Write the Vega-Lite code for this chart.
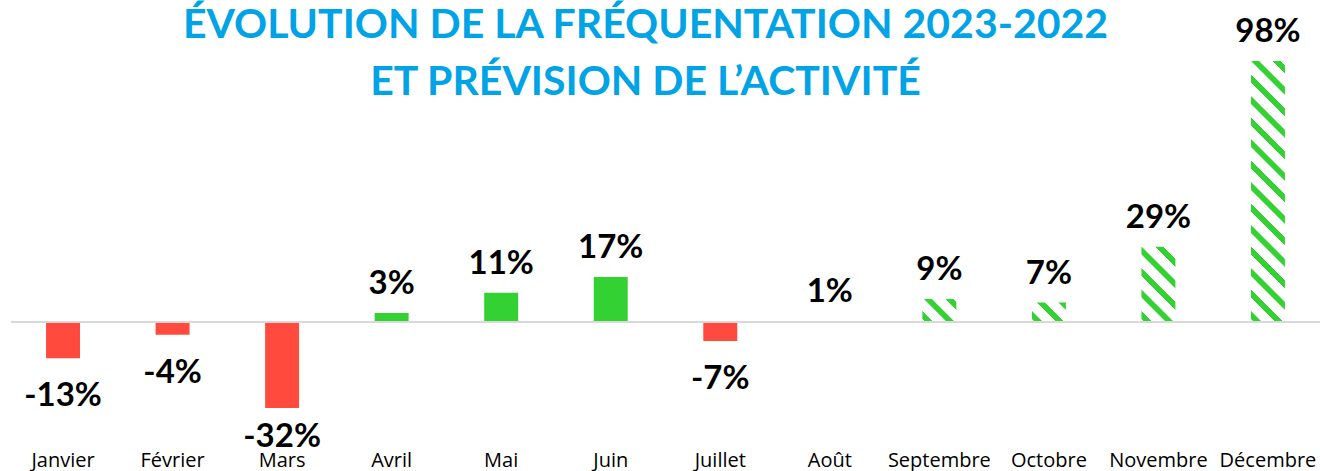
{
  "$schema": "https://vega.github.io/schema/vega-lite/v6.json",
  "width": 1309,
  "height": 446,
  "autosize": {"type": "none"},
  "padding": {"left": 11, "top": 0, "right": 0, "bottom": 25},
  "background": "#ffffff",
  "config": {"view": {"stroke": null}},
  "title": {
    "text": ["ÉVOLUTION DE LA FRÉQUENTATION 2023-2022", "ET PRÉVISION DE L’ACTIVITÉ"],
    "font": "Lato",
    "fontWeight": "bold",
    "fontSize": 41,
    "color": "#00A3E6",
    "lineHeight": 57,
    "anchor": "middle",
    "frame": "group",
    "baseline": "top",
    "offset": -104,
    "dx": -20
  },
  "data": {
    "values": [
      {"month": "Janvier", "value": -13.5, "label": "-13%", "type": "réel"},
      {"month": "Février", "value": -4.7, "label": "-4%", "type": "réel"},
      {"month": "Mars", "value": -32, "label": "-32%", "type": "réel"},
      {"month": "Avril", "value": 3.3, "label": "3%", "type": "réel"},
      {"month": "Mai", "value": 10.9, "label": "11%", "type": "réel"},
      {"month": "Juin", "value": 16.7, "label": "17%", "type": "réel"},
      {"month": "Juillet", "value": -7.1, "label": "-7%", "type": "réel"},
      {"month": "Août", "value": 0.4, "label": "1%", "type": "réel"},
      {"month": "Septembre", "value": 8.55, "label": "9%", "type": "prévision"},
      {"month": "Octobre", "value": 7.2, "label": "7%", "type": "prévision"},
      {"month": "Novembre", "value": 28, "label": "29%", "type": "prévision"},
      {"month": "Décembre", "value": 97, "label": "98%", "type": "prévision"}
    ]
  },
  "layer": [
    {
      "transform": [{"filter": "datum.type === 'réel'"}],
      "mark": {"type": "bar"},
      "encoding": {
        "x": {"field": "month", "type": "nominal", "sort": ["Janvier","Février","Mars","Avril","Mai","Juin","Juillet","Août","Septembre","Octobre","Novembre","Décembre"], "scale": {"paddingInner": 0.69, "paddingOuter": 0.32},
          "axis": {"title": null, "domain": false, "ticks": false, "tickSize": 0, "labelAngle": 0, "labelFont": "Open Sans", "labelFontSize": 20, "labelColor": "#000000", "labelBaseline": "alphabetic", "labelPadding": 20, "labelOverlap": false, "labelFlush": false}},
        "y": {"field": "value", "type": "quantitative", "scale": {"domain": [-46.1, 119.7], "nice": false, "zero": false}, "axis": null},
        "color": {"condition": {"test": "datum.value < 0", "value": "#FF4A3D"}, "value": "#34D133"}
      }
    },
    {
      "transform": [{"filter": "datum.month === 'Septembre'"}],
      "mark": {"type": "bar", "fill": {"gradient": "linear", "x1": 0, "y1": 1, "x2": 1.1498, "y2": 0.2213, "stops": [
        {"offset": 0, "color": "#ffffff"}, {"offset": 0.0439, "color": "#ffffff"}, {"offset": 0.0614, "color": "#34D133"}, {"offset": 0.1843, "color": "#34D133"}, {"offset": 0.2019, "color": "#ffffff"},
        {"offset": 0.4213, "color": "#ffffff"}, {"offset": 0.4389, "color": "#34D133"}, {"offset": 0.5618, "color": "#34D133"}, {"offset": 0.5794, "color": "#ffffff"},
        {"offset": 0.7988, "color": "#ffffff"}, {"offset": 0.8164, "color": "#34D133"}, {"offset": 0.9393, "color": "#34D133"}, {"offset": 0.9568, "color": "#ffffff"}, {"offset": 1, "color": "#ffffff"}]}},
      "encoding": {
        "x": {"field": "month", "type": "nominal", "sort": ["Janvier","Février","Mars","Avril","Mai","Juin","Juillet","Août","Septembre","Octobre","Novembre","Décembre"]},
        "y": {"field": "value", "type": "quantitative"}
      }
    },
    {
      "transform": [{"filter": "datum.month === 'Octobre'"}],
      "mark": {"type": "bar", "fill": {"gradient": "linear", "x1": 0, "y1": 1, "x2": 1.1849, "y2": 0.3242, "stops": [
        {"offset": 0, "color": "#ffffff"}, {"offset": 0.0469, "color": "#ffffff"}, {"offset": 0.0656, "color": "#34D133"}, {"offset": 0.1969, "color": "#34D133"}, {"offset": 0.2156, "color": "#ffffff"},
        {"offset": 0.45, "color": "#ffffff"}, {"offset": 0.4688, "color": "#34D133"}, {"offset": 0.6, "color": "#34D133"}, {"offset": 0.6188, "color": "#ffffff"},
        {"offset": 0.8532, "color": "#ffffff"}, {"offset": 0.8719, "color": "#34D133"}, {"offset": 1, "color": "#34D133"}]}},
      "encoding": {
        "x": {"field": "month", "type": "nominal", "sort": ["Janvier","Février","Mars","Avril","Mai","Juin","Juillet","Août","Septembre","Octobre","Novembre","Décembre"]},
        "y": {"field": "value", "type": "quantitative"}
      }
    },
    {
      "transform": [{"filter": "datum.month === 'Novembre'"}],
      "mark": {"type": "bar", "fill": {"gradient": "linear", "x1": 0, "y1": 1, "x2": 0.54379, "y2": -0.2058, "stops": [
        {"offset": 0, "color": "#ffffff"}, {"offset": 0.0229, "color": "#ffffff"}, {"offset": 0.032, "color": "#34D133"}, {"offset": 0.0961, "color": "#34D133"}, {"offset": 0.1053, "color": "#ffffff"},
        {"offset": 0.2197, "color": "#ffffff"}, {"offset": 0.2288, "color": "#34D133"}, {"offset": 0.2929, "color": "#34D133"}, {"offset": 0.302, "color": "#ffffff"},
        {"offset": 0.4164, "color": "#ffffff"}, {"offset": 0.4256, "color": "#34D133"}, {"offset": 0.4897, "color": "#34D133"}, {"offset": 0.4988, "color": "#ffffff"},
        {"offset": 0.6132, "color": "#ffffff"}, {"offset": 0.6224, "color": "#34D133"}, {"offset": 0.6864, "color": "#34D133"}, {"offset": 0.6956, "color": "#ffffff"},
        {"offset": 0.81, "color": "#ffffff"}, {"offset": 0.8191, "color": "#34D133"}, {"offset": 0.8832, "color": "#34D133"}, {"offset": 0.8924, "color": "#ffffff"}, {"offset": 1, "color": "#ffffff"}]}},
      "encoding": {
        "x": {"field": "month", "type": "nominal", "sort": ["Janvier","Février","Mars","Avril","Mai","Juin","Juillet","Août","Septembre","Octobre","Novembre","Décembre"]},
        "y": {"field": "value", "type": "quantitative"}
      }
    },
    {
      "transform": [{"filter": "datum.month === 'Décembre'"}],
      "mark": {"type": "bar", "fill": {"gradient": "linear", "x1": 0, "y1": 1, "x2": 0.14466, "y2": -0.1113, "stops": [
        {"offset": 0, "color": "#ffffff"},
        {"offset": 0.00848, "color": "#ffffff"}, {"offset": 0.01187, "color": "#34D133"}, {"offset": 0.03561, "color": "#34D133"}, {"offset": 0.039, "color": "#ffffff"},
        {"offset": 0.0814, "color": "#ffffff"}, {"offset": 0.08479, "color": "#34D133"}, {"offset": 0.10853, "color": "#34D133"}, {"offset": 0.11192, "color": "#ffffff"},
        {"offset": 0.15431, "color": "#ffffff"}, {"offset": 0.1577, "color": "#34D133"}, {"offset": 0.18144, "color": "#34D133"}, {"offset": 0.18483, "color": "#ffffff"},
        {"offset": 0.22723, "color": "#ffffff"}, {"offset": 0.23062, "color": "#34D133"}, {"offset": 0.25436, "color": "#34D133"}, {"offset": 0.25775, "color": "#ffffff"},
        {"offset": 0.30014, "color": "#ffffff"}, {"offset": 0.30353, "color": "#34D133"}, {"offset": 0.32727, "color": "#34D133"}, {"offset": 0.33067, "color": "#ffffff"},
        {"offset": 0.37306, "color": "#ffffff"}, {"offset": 0.37645, "color": "#34D133"}, {"offset": 0.40019, "color": "#34D133"}, {"offset": 0.40358, "color": "#ffffff"},
        {"offset": 0.44598, "color": "#ffffff"}, {"offset": 0.44937, "color": "#34D133"}, {"offset": 0.47311, "color": "#34D133"}, {"offset": 0.4765, "color": "#ffffff"},
        {"offset": 0.51889, "color": "#ffffff"}, {"offset": 0.52228, "color": "#34D133"}, {"offset": 0.54602, "color": "#34D133"}, {"offset": 0.54942, "color": "#ffffff"},
        {"offset": 0.59181, "color": "#ffffff"}, {"offset": 0.5952, "color": "#34D133"}, {"offset": 0.61894, "color": "#34D133"}, {"offset": 0.62233, "color": "#ffffff"},
        {"offset": 0.66472, "color": "#ffffff"}, {"offset": 0.66811, "color": "#34D133"}, {"offset": 0.69185, "color": "#34D133"}, {"offset": 0.69525, "color": "#ffffff"},
        {"offset": 0.73764, "color": "#ffffff"}, {"offset": 0.74103, "color": "#34D133"}, {"offset": 0.76477, "color": "#34D133"}, {"offset": 0.76816, "color": "#ffffff"},
        {"offset": 0.81055, "color": "#ffffff"}, {"offset": 0.81394, "color": "#34D133"}, {"offset": 0.83768, "color": "#34D133"}, {"offset": 0.84108, "color": "#ffffff"},
        {"offset": 0.88347, "color": "#ffffff"}, {"offset": 0.88686, "color": "#34D133"}, {"offset": 0.9106, "color": "#34D133"}, {"offset": 0.91399, "color": "#ffffff"},
        {"offset": 0.95638, "color": "#ffffff"}, {"offset": 0.95977, "color": "#34D133"}, {"offset": 0.98351, "color": "#34D133"}, {"offset": 0.98691, "color": "#ffffff"},
        {"offset": 1, "color": "#ffffff"}]}},
      "encoding": {
        "x": {"field": "month", "type": "nominal", "sort": ["Janvier","Février","Mars","Avril","Mai","Juin","Juillet","Août","Septembre","Octobre","Novembre","Décembre"]},
        "y": {"field": "value", "type": "quantitative"}
      }
    },
    {
      "mark": {"type": "rule", "color": "#D9D9D9", "strokeWidth": 1.5},
      "encoding": {"y": {"datum": 0, "type": "quantitative"}}
    },
    {
      "transform": [{"filter": "datum.value >= 0"}],
      "mark": {"type": "text", "font": "Lato", "fontWeight": "bold", "fontSize": 33, "color": "#000000", "baseline": "alphabetic", "dy": -19},
      "encoding": {
        "x": {"field": "month", "type": "nominal", "sort": ["Janvier","Février","Mars","Avril","Mai","Juin","Juillet","Août","Septembre","Octobre","Novembre","Décembre"]},
        "y": {"field": "value", "type": "quantitative"},
        "text": {"field": "label"}
      }
    },
    {
      "transform": [{"filter": "datum.value < 0 && datum.month !== 'Mars'"}],
      "mark": {"type": "text", "font": "Lato", "fontWeight": "bold", "fontSize": 33, "color": "#000000", "baseline": "alphabetic", "dy": 48},
      "encoding": {
        "x": {"field": "month", "type": "nominal", "sort": ["Janvier","Février","Mars","Avril","Mai","Juin","Juillet","Août","Septembre","Octobre","Novembre","Décembre"]},
        "y": {"field": "value", "type": "quantitative"},
        "text": {"field": "label"}
      }
    },
    {
      "transform": [{"filter": "datum.month === 'Mars'"}],
      "mark": {"type": "text", "font": "Lato", "fontWeight": "bold", "fontSize": 33, "color": "#000000", "baseline": "alphabetic", "dy": 39},
      "encoding": {
        "x": {"field": "month", "type": "nominal", "sort": ["Janvier","Février","Mars","Avril","Mai","Juin","Juillet","Août","Septembre","Octobre","Novembre","Décembre"]},
        "y": {"field": "value", "type": "quantitative"},
        "text": {"field": "label"}
      }
    }
  ]
}
